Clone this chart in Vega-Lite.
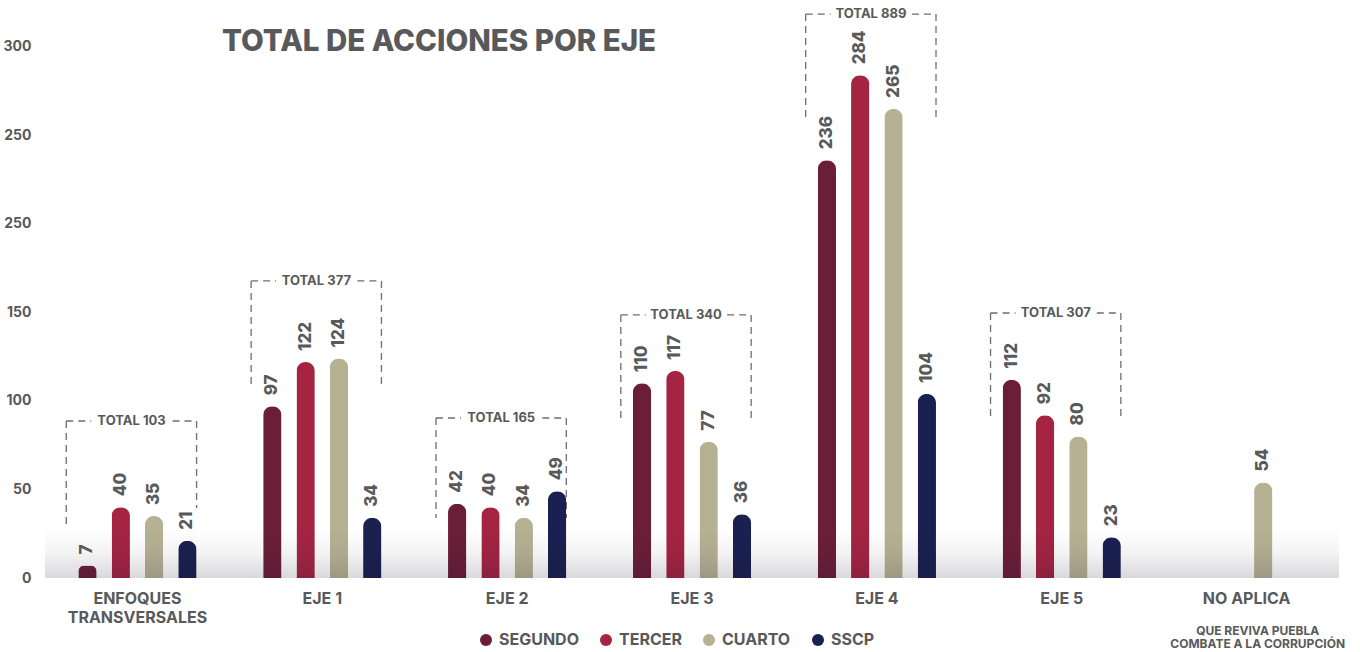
{
  "$schema": "https://vega.github.io/schema/vega-lite/v6.json",
  "width": 1294,
  "height": 573,
  "autosize": {"type": "none"},
  "padding": {"left": 45, "top": 5, "right": 21, "bottom": 74},
  "background": "white",
  "config": {
    "view": {"stroke": null},
    "font": "Inter"
  },
  "title": {
    "text": "TOTAL DE ACCIONES POR EJE",
    "anchor": "start",
    "frame": "group",
    "orient": "top",
    "fontSize": 29.5,
    "fontWeight": 800,
    "color": "#58595b",
    "baseline": "alphabetic",
    "offset": 0,
    "dx": 177,
    "dy": 75
  },
  "datasets": {
    "bars": [
      {"eje": "ENFOQUES TRANSVERSALES", "serie": "SEGUNDO", "valor": 7},
      {"eje": "ENFOQUES TRANSVERSALES", "serie": "TERCER", "valor": 40},
      {"eje": "ENFOQUES TRANSVERSALES", "serie": "CUARTO", "valor": 35},
      {"eje": "ENFOQUES TRANSVERSALES", "serie": "SSCP", "valor": 21},
      {"eje": "EJE 1", "serie": "SEGUNDO", "valor": 97},
      {"eje": "EJE 1", "serie": "TERCER", "valor": 122},
      {"eje": "EJE 1", "serie": "CUARTO", "valor": 124},
      {"eje": "EJE 1", "serie": "SSCP", "valor": 34},
      {"eje": "EJE 2", "serie": "SEGUNDO", "valor": 42},
      {"eje": "EJE 2", "serie": "TERCER", "valor": 40},
      {"eje": "EJE 2", "serie": "CUARTO", "valor": 34},
      {"eje": "EJE 2", "serie": "SSCP", "valor": 49},
      {"eje": "EJE 3", "serie": "SEGUNDO", "valor": 110},
      {"eje": "EJE 3", "serie": "TERCER", "valor": 117},
      {"eje": "EJE 3", "serie": "CUARTO", "valor": 77},
      {"eje": "EJE 3", "serie": "SSCP", "valor": 36},
      {"eje": "EJE 4", "serie": "SEGUNDO", "valor": 236},
      {"eje": "EJE 4", "serie": "TERCER", "valor": 284},
      {"eje": "EJE 4", "serie": "CUARTO", "valor": 265},
      {"eje": "EJE 4", "serie": "SSCP", "valor": 104},
      {"eje": "EJE 5", "serie": "SEGUNDO", "valor": 112},
      {"eje": "EJE 5", "serie": "TERCER", "valor": 92},
      {"eje": "EJE 5", "serie": "CUARTO", "valor": 80},
      {"eje": "EJE 5", "serie": "SSCP", "valor": 23},
      {"eje": "NO APLICA", "serie": "CUARTO", "valor": 54}
    ],
    "totals": [
      {"eje": "ENFOQUES TRANSVERSALES", "total": 103, "top": 88.7, "bottomL": 28.8, "bottomR": 39.5},
      {"eje": "EJE 1", "total": 377, "top": 167.8, "bottomL": 109, "bottomR": 109},
      {"eje": "EJE 2", "total": 165, "top": 90.4, "bottomL": 33.9, "bottomR": 33.9},
      {"eje": "EJE 3", "total": 340, "top": 148.6, "bottomL": 89.3, "bottomR": 89.3},
      {"eje": "EJE 4", "total": 889, "top": 318.6, "bottomL": 258.8, "bottomR": 258.8},
      {"eje": "EJE 5", "total": 307, "top": 149.7, "bottomL": 90.4, "bottomR": 90.4}
    ],
    "footer": [{"eje": "NO APLICA"}]
  },
  "layer": [
    {
      "data": {"name": "totals"},
      "mark": {"type": "rule", "color": "#6d6e71", "strokeWidth": 1.3, "strokeDash": [7, 5]},
      "encoding": {
        "x": {"field": "eje", "type": "nominal", "bandPosition": 0.115, "title": null},
        "y": {"field": "top", "type": "quantitative", "title": null},
        "y2": {"field": "bottomL"}
      }
    },
    {
      "data": {"name": "totals"},
      "mark": {"type": "rule", "color": "#6d6e71", "strokeWidth": 1.3, "strokeDash": [7, 5]},
      "encoding": {
        "x": {"field": "eje", "type": "nominal", "bandPosition": 0.82, "title": null},
        "y": {"field": "top", "type": "quantitative", "title": null},
        "y2": {"field": "bottomR"}
      }
    },
    {
      "data": {"name": "totals"},
      "mark": {"type": "rule", "color": "#6d6e71", "strokeWidth": 1.3, "strokeDash": [7, 5]},
      "encoding": {
        "x": {"field": "eje", "type": "nominal", "bandPosition": 0.115, "title": null},
        "x2": {"field": "eje", "bandPosition": 0.25},
        "y": {"field": "top", "type": "quantitative", "title": null}
      }
    },
    {
      "data": {"name": "totals"},
      "mark": {"type": "rule", "color": "#6d6e71", "strokeWidth": 1.3, "strokeDash": [7, 5]},
      "encoding": {
        "x": {"field": "eje", "type": "nominal", "bandPosition": 0.69, "title": null},
        "x2": {"field": "eje", "bandPosition": 0.82},
        "y": {"field": "top", "type": "quantitative", "title": null}
      }
    },
    {
      "data": {"name": "totals"},
      "transform": [{"calculate": "'TOTAL ' + datum.total", "as": "etiqueta"}],
      "mark": {"type": "text", "fontSize": 13, "fontWeight": "bold", "color": "#58595b", "align": "center", "baseline": "middle"},
      "encoding": {
        "x": {"field": "eje", "type": "nominal", "bandPosition": 0.468, "title": null},
        "y": {"field": "top", "type": "quantitative", "title": null},
        "text": {"field": "etiqueta", "type": "nominal"}
      }
    },
    {
      "data": {"name": "bars"},
      "mark": {"type": "bar", "cornerRadiusTopLeft": 9, "cornerRadiusTopRight": 9},
      "encoding": {
        "x": {
          "field": "eje",
          "type": "nominal",
          "title": null,
          "scale": {
            "domain": ["ENFOQUES TRANSVERSALES", "EJE 1", "EJE 2", "EJE 3", "EJE 4", "EJE 5", "NO APLICA"],
            "paddingInner": 0,
            "paddingOuter": 0
          },
          "axis": {
            "ticks": false,
            "domain": false,
            "grid": false,
            "labelAngle": 0,
            "labelAlign": "center",
            "bandPosition": 0.5,
            "labelPadding": 12,
            "labelFontSize": 16,
            "labelFontWeight": "bold",
            "labelColor": "#58595b",
            "labelLineHeight": 19,
            "labelBaseline": "top",
            "labelLimit": 300,
            "labelExpr": "datum.value == 'ENFOQUES TRANSVERSALES' ? ['ENFOQUES', 'TRANSVERSALES'] : datum.label"
          }
        },
        "xOffset": {
          "field": "serie",
          "type": "nominal",
          "scale": {"domain": ["SEGUNDO", "TERCER", "CUARTO", "SSCP"], "paddingInner": 0.45, "paddingOuter": 1.03}
        },
        "y": {
          "field": "valor",
          "type": "quantitative",
          "title": null,
          "scale": {"domain": [0, 323.7], "nice": false, "zero": true},
          "axis": {
            "values": [0, 50, 100, 150, 200, 250, 300],
            "labelExpr": "datum.value == 200 ? '250' : datum.label",
            "ticks": false,
            "domain": false,
            "grid": false,
            "labelPadding": 14,
            "labelFontSize": 14,
            "labelFontWeight": "bold",
            "labelColor": "#58595b"
          }
        },
        "color": {
          "field": "serie",
          "type": "nominal",
          "scale": {
            "domain": ["SEGUNDO", "TERCER", "CUARTO", "SSCP"],
            "range": ["#6b1e37", "#a42442", "#b7b193", "#1a2050"]
          },
          "legend": {
            "orient": "none",
            "legendX": 433,
            "legendY": 627,
            "direction": "horizontal",
            "title": null,
            "symbolType": "circle",
            "symbolSize": 144,
            "symbolStrokeWidth": 0,
            "labelFontSize": 16,
            "labelFontWeight": "bold",
            "labelColor": "#58595b",
            "labelOffset": 5,
            "columnPadding": 19
          }
        }
      }
    },
    {
      "data": {"name": "footer"},
      "mark": {
        "type": "rect",
        "color": {
          "gradient": "linear",
          "x1": 0, "y1": 0, "x2": 0, "y2": 1,
          "stops": [
            {"offset": 0, "color": "rgba(20,20,40,0)"},
            {"offset": 0.5, "color": "rgba(20,20,40,0.05)"},
            {"offset": 1, "color": "rgba(20,20,40,0.16)"}
          ]
        }
      },
      "encoding": {
        "y": {"datum": 28},
        "y2": {"datum": 0}
      }
    },
    {
      "data": {"name": "bars"},
      "mark": {"type": "text", "angle": 270, "align": "left", "baseline": "middle", "dx": 11, "fontSize": 17, "fontWeight": 800, "color": "#58595b"},
      "encoding": {
        "x": {"field": "eje", "type": "nominal", "title": null},
        "xOffset": {"field": "serie", "type": "nominal"},
        "y": {"field": "valor", "type": "quantitative", "title": null},
        "text": {"field": "valor", "type": "quantitative"}
      }
    },
    {
      "data": {"name": "footer"},
      "mark": {"type": "text", "align": "center", "baseline": "top", "fontSize": 12, "letterSpacing": 1.4, "fontWeight": "bold", "lineHeight": 13.5, "color": "#58595b", "text": ["QUE REVIVA PUEBLA", "COMBATE A LA CORRUPCIÓN"]},
      "encoding": {
        "x": {"field": "eje", "type": "nominal", "bandPosition": 0.56, "title": null},
        "y": {"datum": -27}
      }
    }
  ]
}
